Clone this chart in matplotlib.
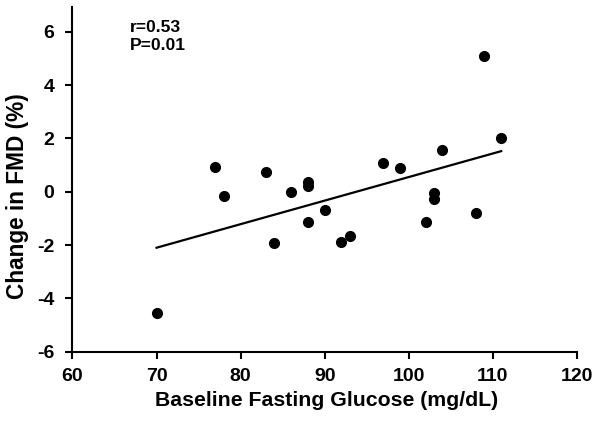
import numpy as np
import matplotlib
matplotlib.use("Agg")
import matplotlib.pyplot as plt

# baseline fasting glucose (mg/dL) vs change in FMD (%)
glucose = [70, 77, 78, 83, 84, 86, 88, 88, 88, 90, 92, 93,
           97, 99, 102, 103, 103, 104, 108, 109, 111]
fmd_change = [-4.56, 0.92, -0.16, 0.73, -1.91, -0.02, 0.35, 0.21, -1.13, -0.69, -1.88, -1.66,
              1.07, 0.88, -1.13, -0.06, -0.27, 1.55, -0.79, 5.10, 2.00]

x_ticks = [60, 70, 80, 90, 100, 110, 120]
y_ticks = [-6, -4, -2, 0, 2, 4, 6]
stats_text = "r=0.53\nP=0.01"

plt.rcParams['font.family'] = ['Liberation Sans', 'DejaVu Sans']
plt.rcParams['font.weight'] = 'bold'
plt.rcParams['axes.unicode_minus'] = False

fig = plt.figure(figsize=(6.04, 4.23), dpi=100)
ax = fig.add_axes([0.12, 0.1686, 0.835, 0.815])

x = np.array(glucose)
y = np.array(fmd_change)
ax.plot(x, y, 'o', color='black', markersize=7, zorder=3)

# least squares trend line over the data range
slope, intercept = np.polyfit(x, y, 1)
xs = np.array([x.min(), x.max()])
ax.plot(xs, slope * xs + intercept, color='black', linewidth=1.6)

ax.set_xlim(60, 120)
ax.set_ylim(-6, 6.93)
ax.set_xticks(x_ticks)
ax.set_yticks(y_ticks)

for side in ['top', 'right']:
    ax.spines[side].set_visible(False)
for side in ['left', 'bottom']:
    ax.spines[side].set_linewidth(1.5)

ax.tick_params(axis='both', direction='out', length=5, width=1.5, labelsize=14)
ax.tick_params(axis='x', pad=7)
ax.tick_params(axis='y', pad=8)
for lbl in ax.get_xticklabels() + ax.get_yticklabels():
    lbl.set_fontweight('bold')

ax.set_xlabel("Baseline Fasting Glucose (mg/dL)", fontsize=15.3, fontweight='bold')
ax.set_ylabel("Change in FMD (%)", fontsize=16.3, fontweight='bold')
ax.xaxis.set_label_coords(0.504, -0.114)
ax.yaxis.set_label_coords(-0.087, 0.452)

ax.text(66.8, 6.45, stats_text, fontsize=12.6, fontweight='bold', va='top', ha='left',
        linespacing=1.3)

fig.savefig("out.png", dpi=100)
